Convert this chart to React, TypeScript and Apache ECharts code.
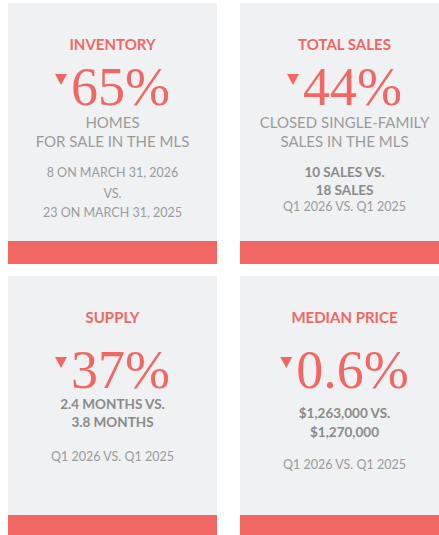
import React, { useEffect, useRef } from "react";
import * as echarts from "echarts";

// ---- data ----
const titles = ["INVENTORY", "TOTAL SALES", "SUPPLY", "MEDIAN PRICE"];
const changes = ["65%", "44%", "37%", "0.6%"];
const directions = ["down", "down", "down", "down"];
const subLines = [
  ["HOMES", "FOR SALE IN THE MLS"],
  ["CLOSED SINGLE-FAMILY", "SALES IN THE MLS"],
  [],
  [],
];
const boldLines = [
  [],
  ["10 SALES VS.", "18 SALES"],
  ["2.4 MONTHS VS.", "3.8 MONTHS"],
  ["$1,263,000 VS.", "$1,270,000"],
];
const noteLines = [
  ["8 ON MARCH 31, 2026", "VS.", "23 ON MARCH 31, 2025"],
  ["Q1 2026 VS. Q1 2025"],
  ["Q1 2026 VS. Q1 2025"],
  ["Q1 2026 VS. Q1 2025"],
];

// ---- layout / style ----
const RED = "#f26763";
const BG = "#f0f1f3";
const GRAY = "#9b9b9b";
const GRAY_BOLD = "#8a8a8a";
const SANS = "Lato, 'Open Sans', sans-serif";
const SERIF = "'Liberation Serif', 'DejaVu Serif', serif";

const cardX = [8, 240, 8, 240];
const cardY = [3, 3, 276, 276];
const cardW = 209;
const bodyH = [238, 238, 239, 239];
const barH = 23;

// y offsets (relative to card top) for text blocks
const bigY = [84, 84, 94, 94];
const subY = [[119, 138], [119, 138], [], []];
const boldY = [[], [169, 187], [128, 146], [137, 156]];
const noteY = [[169, 190, 209], [203], [180], [188]];

function measure(text: string, font: string): number {
  const c = document.createElement("canvas").getContext("2d");
  if (!c) return text.length * 20;
  c.font = font;
  return c.measureText(text).width;
}

export default function App() {
  const ref = useRef<HTMLDivElement>(null);
  useEffect(() => {
    if (!ref.current) return;
    const chart = echarts.init(ref.current, undefined, { renderer: "svg" });
    const elements: any[] = [];
    titles.forEach((title, i) => {
      const x0 = cardX[i];
      const y0 = cardY[i];
      const cx = x0 + cardW / 2;
      elements.push({
        type: "rect",
        shape: { x: x0, y: y0, width: cardW, height: bodyH[i] },
        style: { fill: BG },
        silent: true,
      });
      elements.push({
        type: "rect",
        shape: { x: x0, y: y0 + bodyH[i], width: cardW, height: barH },
        style: { fill: RED },
        silent: true,
      });
      elements.push({
        type: "text",
        x: cx,
        y: y0 + 41,
        style: {
          text: title,
          fill: RED,
          font: `bold 15px ${SANS}`,
          align: "center",
          verticalAlign: "middle",
        },
      });
      // big number with triangle
      const bigFont = `54px ${SERIF}`;
      const tw = measure(changes[i], bigFont);
      const triW = 12;
      const gap = 4;
      const total = triW + gap + tw;
      const left = cx - total / 2;
      const by = y0 + bigY[i];
      const down = directions[i] === "down";
      elements.push({
        type: "polygon",
        shape: {
          points: down
            ? [
                [left, by - 13],
                [left + triW, by - 13],
                [left + triW / 2, by - 2],
              ]
            : [
                [left, by - 2],
                [left + triW, by - 2],
                [left + triW / 2, by - 13],
              ],
        },
        style: { fill: RED },
      });
      elements.push({
        type: "text",
        x: left + triW + gap,
        y: by,
        style: {
          text: changes[i],
          fill: RED,
          font: bigFont,
          lineHeight: 38,
          align: "left",
          verticalAlign: "middle",
        },
      });
      subLines[i].forEach((t, k) => {
        elements.push({
          type: "text",
          x: cx,
          y: y0 + subY[i][k],
          style: {
            text: t,
            fill: GRAY,
            font: `15px ${SANS}`,
            align: "center",
            verticalAlign: "middle",
          },
        });
      });
      boldLines[i].forEach((t, k) => {
        elements.push({
          type: "text",
          x: cx,
          y: y0 + boldY[i][k],
          style: {
            text: t,
            fill: GRAY_BOLD,
            font: `bold 13.5px ${SANS}`,
            align: "center",
            verticalAlign: "middle",
          },
        });
      });
      noteLines[i].forEach((t, k) => {
        elements.push({
          type: "text",
          x: cx,
          y: y0 + noteY[i][k],
          style: {
            text: t,
            fill: GRAY,
            font: `12.5px ${SANS}`,
            align: "center",
            verticalAlign: "middle",
          },
        });
      });
    });
    chart.setOption({
      animation: false,
      backgroundColor: "#ffffff",
      graphic: { elements },
    });
    return () => chart.dispose();
  }, []);
  return (
    <div
      ref={ref}
      style={{ position: "absolute", left: 0, top: 0, width: 439, height: 535 }}
    />
  );
}
